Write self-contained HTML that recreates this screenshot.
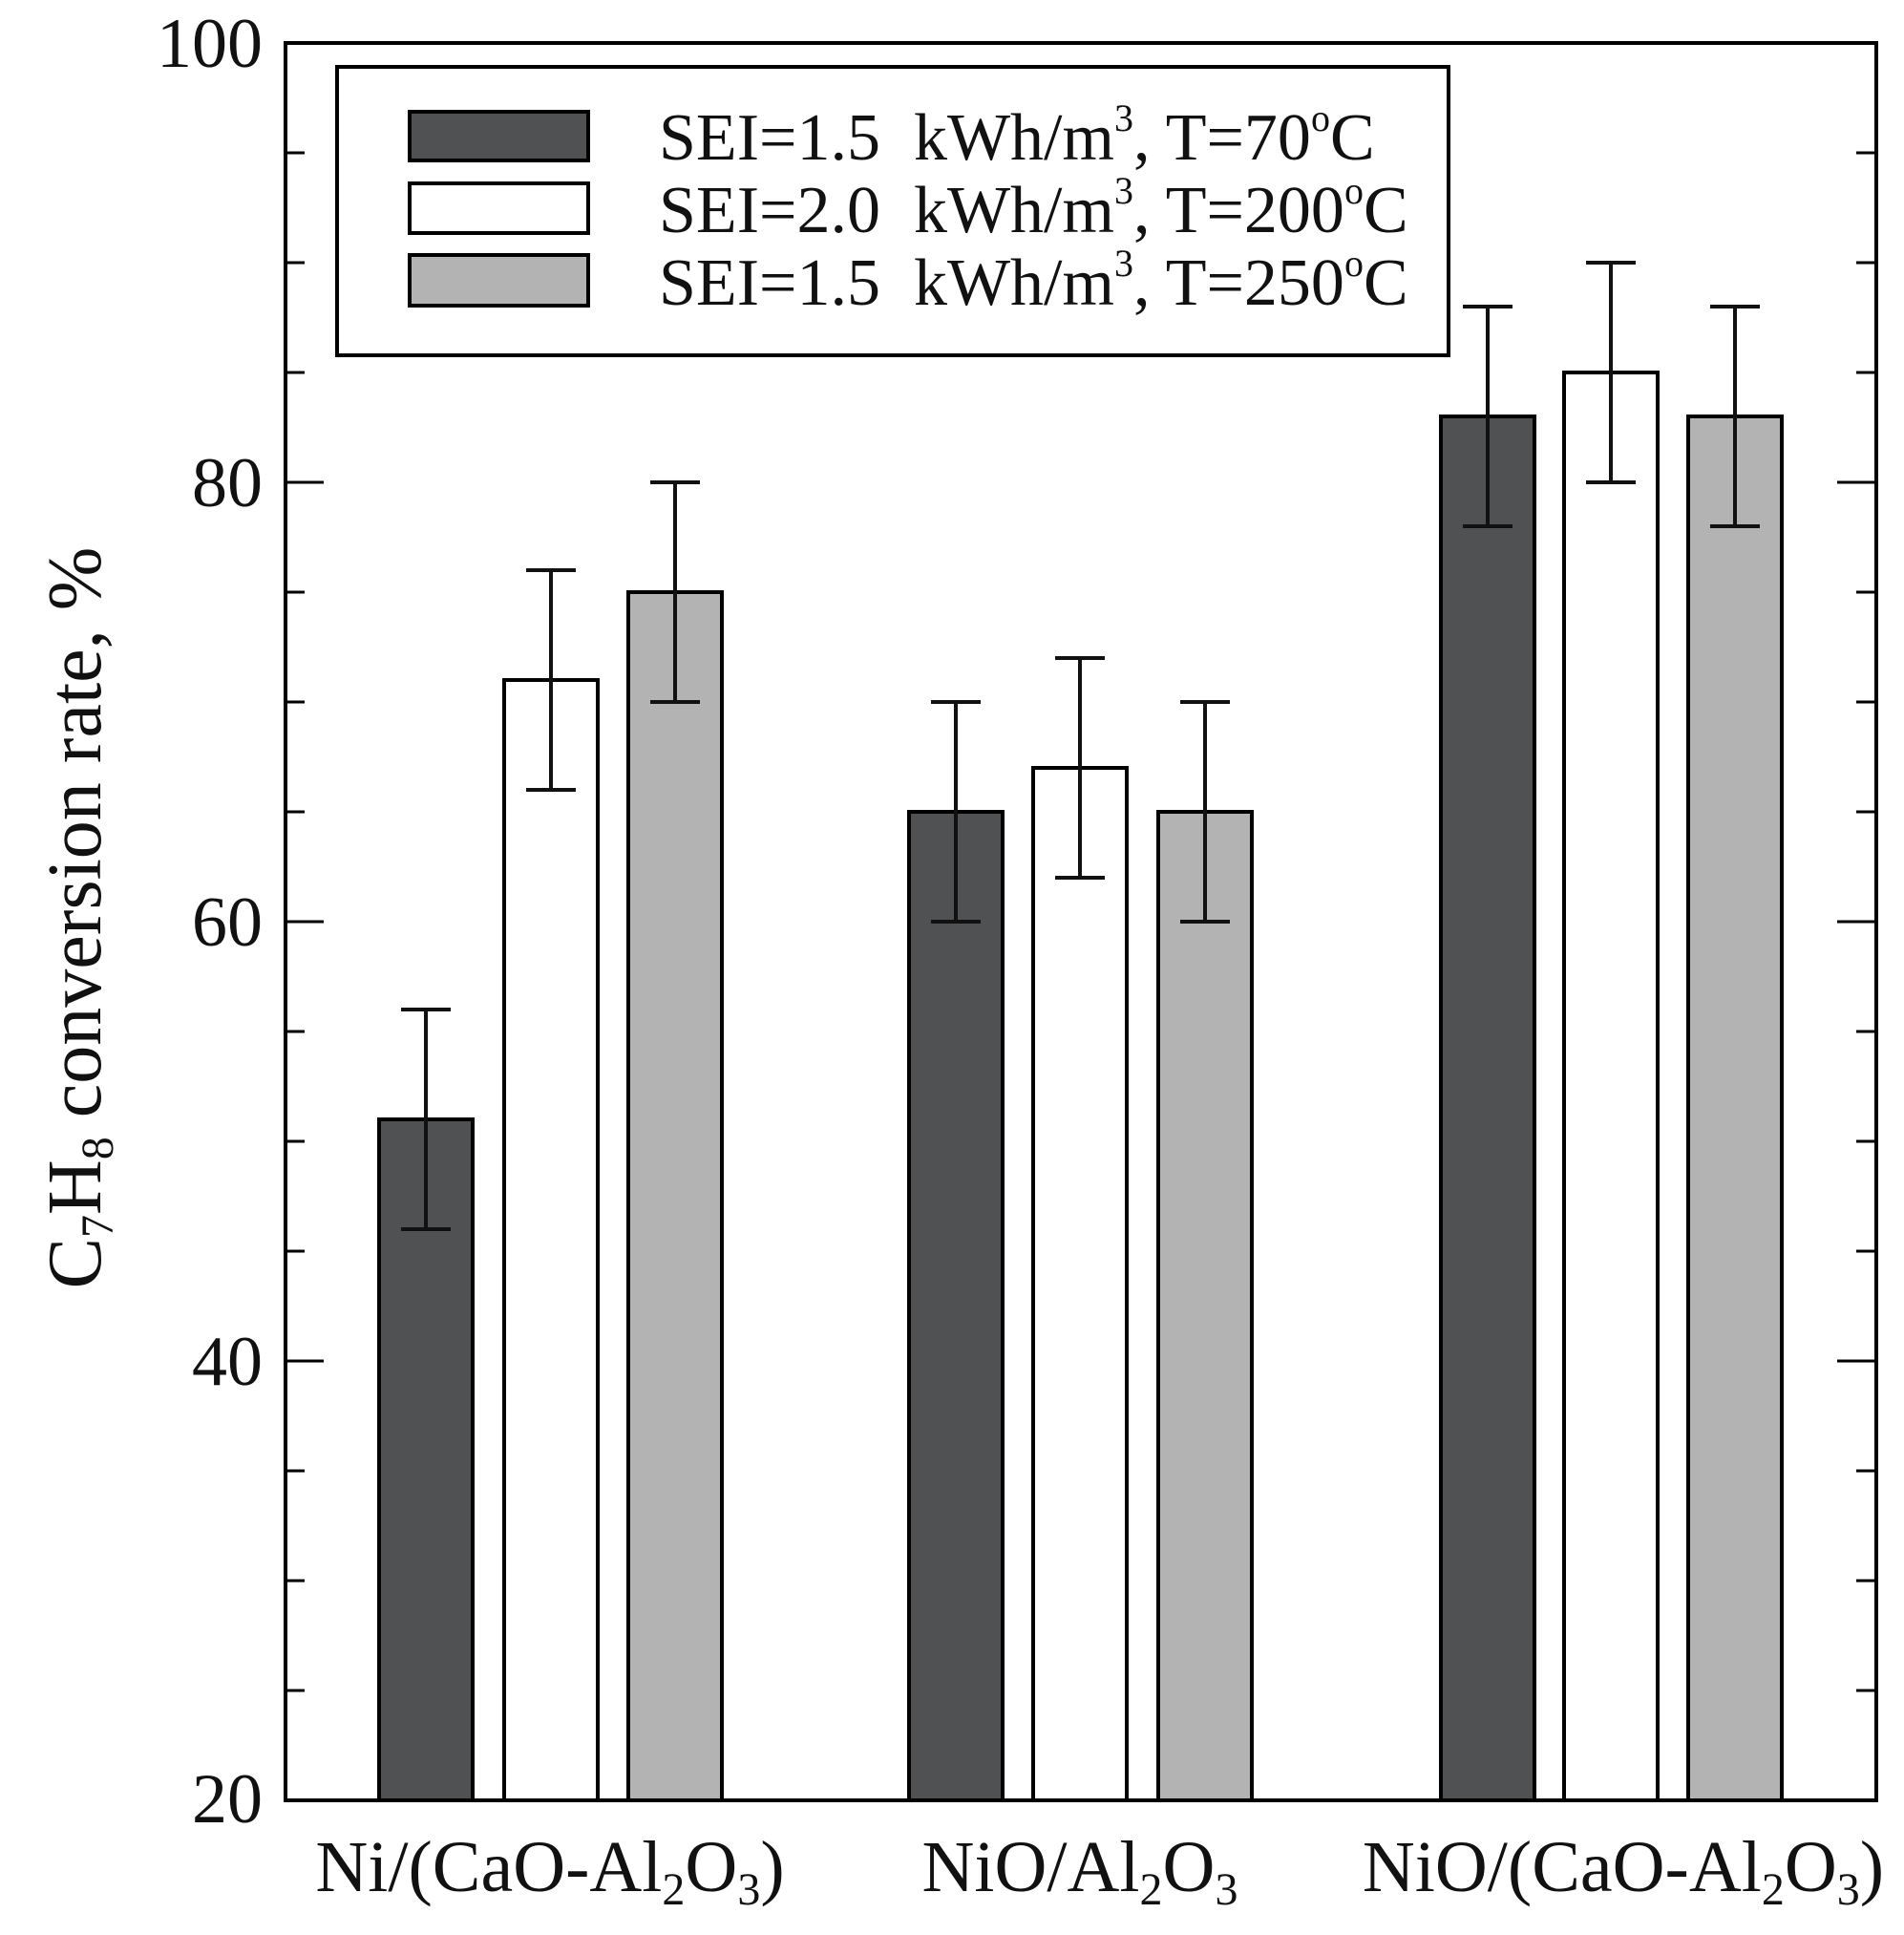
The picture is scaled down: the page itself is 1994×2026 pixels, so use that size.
<!DOCTYPE html>
<html><head><meta charset="utf-8"><style>html,body{margin:0;padding:0;background:#fff}svg{display:block}</style></head>
<body>
<svg width="1994" height="2026" viewBox="0 0 1994 2026" xmlns="http://www.w3.org/2000/svg" font-family="Liberation Serif, serif">
<rect width="1994" height="2026" fill="#fff"/>
<g stroke="#000" stroke-width="3">
<g id="t">
<line x1="299" y1="160" x2="319" y2="160"/><line x1="299" y1="275" x2="319" y2="275"/><line x1="299" y1="390" x2="319" y2="390"/><line x1="299" y1="505" x2="339" y2="505"/>
<line x1="299" y1="620" x2="319" y2="620"/><line x1="299" y1="735" x2="319" y2="735"/><line x1="299" y1="850" x2="319" y2="850"/><line x1="299" y1="965" x2="339" y2="965"/>
<line x1="299" y1="1080" x2="319" y2="1080"/><line x1="299" y1="1195" x2="319" y2="1195"/><line x1="299" y1="1310" x2="319" y2="1310"/><line x1="299" y1="1425" x2="339" y2="1425"/>
<line x1="299" y1="1540" x2="319" y2="1540"/><line x1="299" y1="1655" x2="319" y2="1655"/><line x1="299" y1="1770" x2="319" y2="1770"/>
</g>
<use href="#t" transform="translate(2263,0) scale(-1,1)"/>
</g>
<g stroke="#000" stroke-width="4">
<rect x="397" y="1172" width="98" height="713" fill="#505153"/>
<rect x="528" y="712" width="98" height="1173" fill="#fff"/>
<rect x="658" y="620" width="98" height="1265" fill="#b3b3b3"/>
<rect x="952" y="850" width="98" height="1035" fill="#505153"/>
<rect x="1082" y="804" width="98" height="1081" fill="#fff"/>
<rect x="1213" y="850" width="98" height="1035" fill="#b3b3b3"/>
<rect x="1509" y="436" width="98" height="1449" fill="#505153"/>
<rect x="1638" y="390" width="98" height="1495" fill="#fff"/>
<rect x="1768" y="436" width="98" height="1449" fill="#b3b3b3"/>
</g>
<g stroke="#111" stroke-width="4">
<path d="M446 1057V1287M420 1057H472M420 1287H472"/>
<path d="M577 597V827M551 597H603M551 827H603"/>
<path d="M707 505V735M681 505H733M681 735H733"/>
<path d="M1001 735V965M975 735H1027M975 965H1027"/>
<path d="M1131 689V919M1105 689H1157M1105 919H1157"/>
<path d="M1262 735V965M1236 735H1288M1236 965H1288"/>
<path d="M1558 321V551M1532 321H1584M1532 551H1584"/>
<path d="M1687 275V505M1661 275H1713M1661 505H1713"/>
<path d="M1817 321V551M1791 321H1843M1791 551H1843"/>
</g>
<rect x="299" y="45" width="1666" height="1840" fill="none" stroke="#000" stroke-width="4"/>
<rect x="353" y="70" width="1164" height="302" fill="#fff" stroke="#000" stroke-width="4"/>
<g stroke="#000" stroke-width="4">
<rect x="429" y="117" width="187" height="51" fill="#505153"/>
<rect x="429" y="192" width="187" height="52" fill="#fff"/>
<rect x="429" y="267" width="187" height="53" fill="#b3b3b3"/>
</g>
<g font-size="70" fill="#111">
<text x="690" y="167">SEI=1.5 &#160;kWh/m<tspan dy="-30" font-size="40">3</tspan><tspan dy="30">, T=70</tspan><tspan dy="-30" font-size="40">o</tspan><tspan dy="30">C</tspan></text>
<text x="690" y="243">SEI=2.0 &#160;kWh/m<tspan dy="-30" font-size="40">3</tspan><tspan dy="30">, T=200</tspan><tspan dy="-30" font-size="40">o</tspan><tspan dy="30">C</tspan></text>
<text x="690" y="319">SEI=1.5 &#160;kWh/m<tspan dy="-30" font-size="40">3</tspan><tspan dy="30">, T=250</tspan><tspan dy="-30" font-size="40">o</tspan><tspan dy="30">C</tspan></text>
</g>
<g font-size="74" fill="#111" text-anchor="end">
<text x="275" y="70">100</text>
<text x="275" y="530">80</text>
<text x="275" y="990">60</text>
<text x="275" y="1450">40</text>
<text x="275" y="1908">20</text>
</g>
<text transform="translate(105,961) rotate(-90)" text-anchor="middle" font-size="80" fill="#111">C<tspan font-size="48" dy="13">7</tspan><tspan dy="-13">H</tspan><tspan font-size="48" dy="13">8</tspan><tspan dy="-13"> conversion rate, %</tspan></text>
<g font-size="76" fill="#111" text-anchor="middle">
<text x="576" y="1980">Ni/(CaO-Al<tspan font-size="48" dy="14">2</tspan><tspan dy="-14">O</tspan><tspan font-size="48" dy="14">3</tspan><tspan dy="-14">)</tspan></text>
<text x="1131" y="1980">NiO/Al<tspan font-size="48" dy="14">2</tspan><tspan dy="-14">O</tspan><tspan font-size="48" dy="14">3</tspan></text>
<text x="1700" y="1980">NiO/(CaO-Al<tspan font-size="48" dy="14">2</tspan><tspan dy="-14">O</tspan><tspan font-size="48" dy="14">3</tspan><tspan dy="-14">)</tspan></text>
</g>
</svg>
</body></html>
